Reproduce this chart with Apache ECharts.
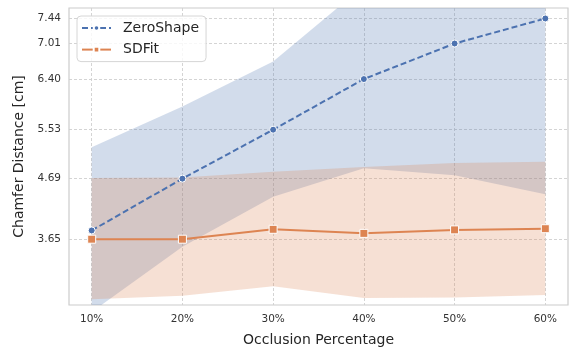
<!DOCTYPE html>
<html><head><meta charset="utf-8">
<script src="https://cdn.jsdelivr.net/npm/echarts@6/dist/echarts.min.js"></script>
<style>html,body{margin:0;padding:0;background:#fff}#c{width:571px;height:348px}</style>
</head><body><div id="c"></div>
<script>
const occlusion = [10, 20, 30, 40, 50, 60];
const zsMean = [3.80, 4.69, 5.53, 6.40, 7.01, 7.44];
const zsLow  = [2.40, 3.52, 4.38, 4.87, 4.75, 4.42];
const zsHigh = [5.23, 5.93, 6.70, 8.00, 8.40, 8.70];
const sdMean = [3.65, 3.65, 3.82, 3.75, 3.81, 3.83];
const sdLow  = [2.62, 2.68, 2.84, 2.64, 2.65, 2.69];
const sdHigh = [4.70, 4.71, 4.81, 4.89, 4.96, 4.98];
const yTicks = [3.65, 4.69, 5.53, 6.40, 7.01, 7.44];

const BLUE = '#4c72b0', ORANGE = '#dd8452';
const FONT = 'DejaVu Sans';
const pairs = ys => occlusion.map((x, i) => [x, ys[i]]);
const triples = (lo, hi) => occlusion.map((x, i) => [x, lo[i], hi[i]]);

const gridLine = { show: true, lineStyle: { color: '#cfcfcf', type: [3, 2], width: 0.9 } };

function bandSeries(lo, hi, color) {
  return {
    type: 'custom', silent: true, clip: true, z: 1,
    data: triples(lo, hi),
    encode: { x: 0, y: [1, 2] },
    renderItem: function (params, api) {
      if (params.dataIndex !== 0) return null;
      const pts = [];
      for (let i = 0; i < occlusion.length; i++) pts.push(api.coord([occlusion[i], hi[i]]));
      for (let i = occlusion.length - 1; i >= 0; i--) pts.push(api.coord([occlusion[i], lo[i]]));
      const cs = params.coordSys;
      return {
        type: 'polygon',
        shape: { points: pts },
        style: { fill: color, opacity: 0.25 },
        clipPath: { type: 'rect', shape: { x: cs.x, y: cs.y, width: cs.width, height: cs.height } }
      };
    }
  };
}

const chart = echarts.init(document.getElementById('c'), null, { renderer: 'canvas' });
chart.setOption({
  animation: false,
  backgroundColor: '#fff',
  textStyle: { fontFamily: FONT },
  grid: { left: 69, top: 8, width: 499, height: 297, containLabel: false, outerBoundsMode: 'none',
          show: true, borderColor: '#cccccc', borderWidth: 1.2, backgroundColor: 'transparent' },
  legend: {
    data: ['ZeroShape', 'SDFit'],
    orient: 'vertical', left: 77, top: 16,
    padding: [5, 7, 5, 4],
    itemWidth: 29, itemHeight: 7, itemGap: 7.6,
    backgroundColor: 'rgba(255,255,255,0.8)',
    borderColor: '#d6d6d6', borderWidth: 1, borderRadius: 4,
    textStyle: { fontFamily: FONT, fontSize: 14, color: '#262626', padding: [0, 0, 0, 7], lineHeight: 14 }
  },
  xAxis: {
    type: 'value', min: 7.5, max: 62.5,
    axisLine: { show: false },
    axisTick: { show: false, customValues: occlusion },
    axisLabel: { customValues: occlusion, formatter: v => v + '%', fontSize: 10.5, color: '#333', margin: 9, fontFamily: FONT },
    splitLine: gridLine,
    name: 'Occlusion Percentage', nameLocation: 'middle', nameGap: 28,
    nameTextStyle: { fontSize: 14, color: '#262626', fontFamily: FONT }
  },
  yAxis: {
    type: 'value', min: 2.52, max: 7.62,
    axisLine: { show: false },
    axisTick: { show: false, customValues: yTicks },
    axisLabel: { customValues: yTicks, formatter: v => v.toFixed(2), fontSize: 10.5, color: '#333', margin: 8, fontFamily: FONT },
    splitLine: gridLine,
    name: 'Chamfer Distance [cm]', nameLocation: 'middle', nameGap: 40,
    nameTextStyle: { fontSize: 14, color: '#262626', fontFamily: FONT }
  },
  series: [
    bandSeries(zsLow, zsHigh, BLUE),
    bandSeries(sdLow, sdHigh, ORANGE),
    { name: 'ZeroShape', type: 'line', data: pairs(zsMean), color: BLUE, z: 3,
      lineStyle: { color: BLUE, width: 2, type: [6, 3] },
      symbol: 'circle', symbolSize: 7, itemStyle: { color: BLUE, borderColor: '#fff', borderWidth: 1 } },
    { name: 'SDFit', type: 'line', data: pairs(sdMean), color: ORANGE, z: 3,
      lineStyle: { color: ORANGE, width: 2 },
      symbol: 'rect', symbolSize: 8, itemStyle: { color: ORANGE, borderColor: '#fff', borderWidth: 1 } }
  ]
});
</script></body></html>
